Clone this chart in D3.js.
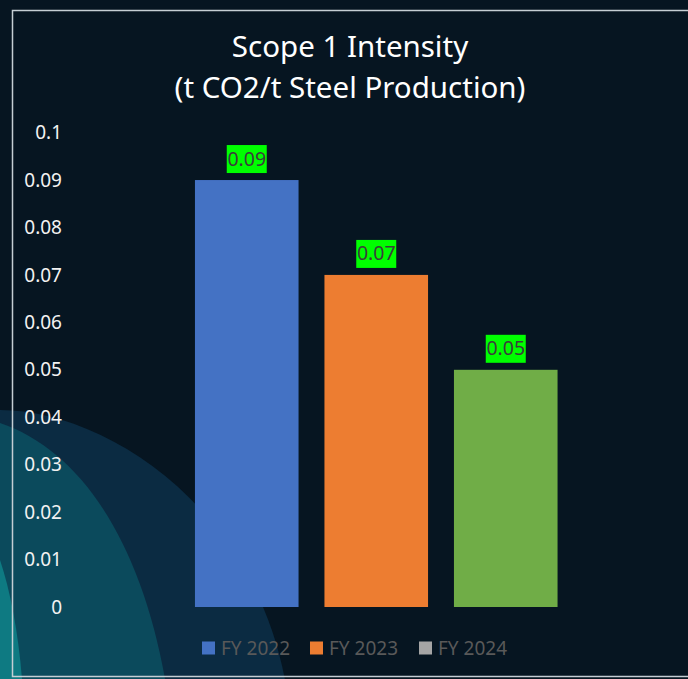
<!DOCTYPE html>
<html>
<head>
<meta charset="utf-8">
<script src="https://cdn.jsdelivr.net/npm/d3@7"></script>
<style>
  html, body { margin: 0; padding: 0; background: #061521; }
  svg { display: block; }
</style>
</head>
<body>
<svg id="chart" width="688" height="679"></svg>
<script>
// Data
const categories = ["FY 2022", "FY 2023", "FY 2024"];
const values = [0.09, 0.07, 0.05];
const barColors = ["#4472c4", "#ed7d31", "#70ad47"];
const legendColors = ["#4472c4", "#ed7d31", "#a5a5a5"];
const tickValues = [0, 0.01, 0.02, 0.03, 0.04, 0.05, 0.06, 0.07, 0.08, 0.09, 0.1];
const tickLabels = ["0", "0.01", "0.02", "0.03", "0.04", "0.05", "0.06", "0.07", "0.08", "0.09", "0.1"];
const titleLines = ["Scope 1 Intensity", "(t CO2/t Steel Production)"];

const W = 688, H = 679;
const FONT = "'Noto Sans', 'Open Sans', sans-serif";
const svg = d3.select("#chart");

// Background and decorative waves in the lower-left corner
svg.append("rect").attr("width", W).attr("height", H).attr("fill", "#061521");
const deco = svg.append("g");
deco.append("path")
  .attr("d", `M0,410 C100,410 250,500 ${0.414 * W},${H} L0,${H} Z`)
  .attr("fill", "#0b2b42");
deco.append("path")
  .attr("d", `M0,423 C80,450 140,540 165,${H} L0,${H} Z`)
  .attr("fill", "#0b4a5c");
deco.append("path")
  .attr("d", `M0,560 C10,590 18,630 22,${H} L0,${H} Z`)
  .attr("fill", "#0e7a82");

// Frame
svg.append("rect")
  .attr("x", 12.5).attr("y", 10.5)
  .attr("width", W).attr("height", 666)
  .attr("fill", "none")
  .attr("stroke", "#c5ced4")
  .attr("stroke-width", 1.5);

// Title
svg.append("text")
  .attr("x", 350).attr("y", 57)
  .attr("text-anchor", "middle")
  .attr("font-family", FONT).attr("font-size", 29.5)
  .attr("fill", "#ffffff")
  .selectAll("tspan").data(titleLines).join("tspan")
  .attr("x", 350).attr("dy", (d, i) => i === 0 ? 0 : 41)
  .text(d => d);

// Scales
const x = d3.scaleBand().domain(categories).range([182, 570.5])
  .paddingInner(0.2).paddingOuter(0.1);
const y = d3.scaleLinear().domain([0, 0.1]).range([607, 132.6]);

// Y axis (labels only)
const yAxis = d3.axisLeft(y).tickValues(tickValues)
  .tickFormat((d, i) => tickLabels[i]).tickSize(0).tickPadding(0);
const ya = svg.append("g").attr("transform", "translate(62,0)").call(yAxis);
ya.select(".domain").remove();
ya.selectAll("text")
  .attr("font-family", FONT).attr("font-size", 19)
  .attr("fill", "#f2f2f2");

// Bars
svg.append("g").selectAll("rect").data(values).join("rect")
  .attr("x", (d, i) => x(categories[i]))
  .attr("y", d => y(d))
  .attr("width", x.bandwidth())
  .attr("height", d => y(0) - y(d))
  .attr("fill", (d, i) => barColors[i]);

// Value labels on green boxes
const lab = svg.append("g").selectAll("g").data(values).join("g")
  .attr("transform", (d, i) => `translate(${x(categories[i]) + x.bandwidth() / 2},${y(d) - 7})`);
lab.append("rect")
  .attr("x", -20).attr("y", -28).attr("width", 40).attr("height", 28)
  .attr("fill", "#00ff00");
lab.append("text")
  .attr("text-anchor", "middle").attr("y", -7.5)
  .attr("font-family", FONT).attr("font-size", 19.5)
  .attr("fill", "#3c3c3c")
  .text(d => d.toFixed(2));

// Legend
const legendX = [202, 310, 419];
const leg = svg.append("g").selectAll("g").data(categories).join("g")
  .attr("transform", (d, i) => `translate(${legendX[i]},648)`);
leg.append("rect")
  .attr("x", 0).attr("y", -6.5).attr("width", 13).attr("height", 13)
  .attr("fill", (d, i) => legendColors[i]);
leg.append("text")
  .attr("x", 19).attr("y", 7)
  .attr("font-family", FONT).attr("font-size", 19)
  .attr("fill", "#595959")
  .text(d => d);
</script>
</body>
</html>
